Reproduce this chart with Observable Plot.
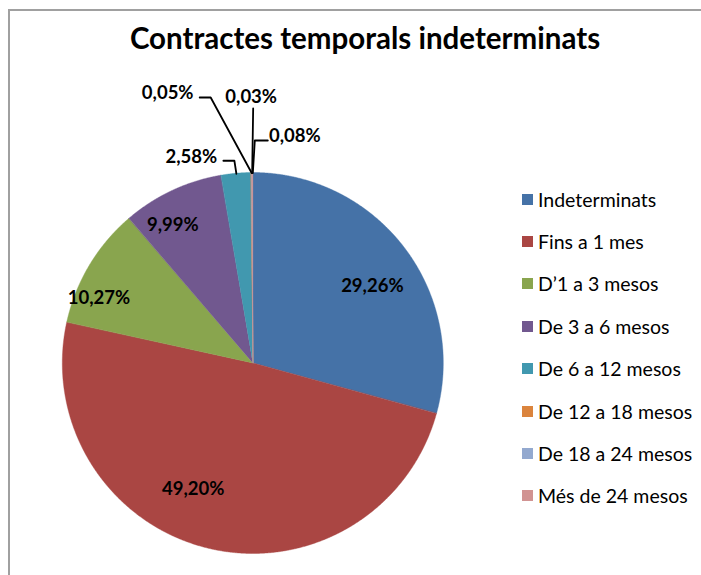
<!DOCTYPE html>
<html><head><meta charset="utf-8">
<script src="https://cdn.jsdelivr.net/npm/d3@7"></script>
<script src="https://cdn.jsdelivr.net/npm/@observablehq/plot@0.6"></script>
<style>
body{margin:0;background:#fff;}
#wrap{position:relative;width:701px;height:575px;overflow:hidden;font-family:Lato,"Open Sans",sans-serif;}
#frame{position:absolute;left:8px;top:9px;width:760px;height:640px;border-left:2px solid #a0a0a0;border-top:2px solid #a0a0a0;}
#title{position:absolute;left:115px;top:19.5px;width:500px;text-align:center;font-weight:700;font-size:29.5px;line-height:1.2;color:#000;white-space:nowrap;}
#plot{position:absolute;left:0;top:0;}
.row{position:absolute;left:522px;height:23px;display:flex;align-items:center;white-space:nowrap;font-size:19.5px;line-height:23px;color:#000;}
.sw{width:11px;height:11px;margin-right:5px;flex:none;}
</style></head>
<body><div id="wrap"><div id="frame"></div><div id="title">Contractes temporals indeterminats</div><div id="plot"></div><div id="legend"></div></div>
<script>
const categories = ["Indeterminats","Fins a 1 mes","D\u20191 a 3 mesos","De 3 a 6 mesos","De 6 a 12 mesos","De 12 a 18 mesos","De 18 a 24 mesos","Més de 24 mesos"];
// slice sizes (share of the circle, %)
const shares = [29.26, 49.20, 10.27, 8.60, 2.51, 0.05, 0.03, 0.08];
// printed data labels
const labelValues = [29.26, 49.20, 10.27, 9.99, 2.58, 0.05, 0.03, 0.08];
const colors = ["#4572A7","#AA4643","#89A54E","#71588F","#4198AF","#DB843D","#93A9CF","#D19392"];

const R = 190.5; // px per data unit (radius)
const fmt = v => v.toFixed(2).replace(".", ",") + "%";

const total = d3.sum(shares);
let cum = 0;
const slices = categories.map((c, i) => {
  const a0 = cum / total * 2 * Math.PI; cum += shares[i];
  const a1 = cum / total * 2 * Math.PI;
  return {c, i, a0, a1, mid: (a0 + a1) / 2};
});
const arcPts = slices.flatMap(s => {
  const n = Math.max(1, Math.ceil((s.a1 - s.a0) / (Math.PI / 720)));
  return d3.range(n + 1).map(k => {
    const a = s.a0 + (s.a1 - s.a0) * k / n;
    return {c: s.c, x: Math.sin(a), y: Math.cos(a)};
  });
});

// label layout (pixel nudges)
const inside = {0: [13, 3], 1: [-28, -4], 2: [-40, 3], 3: [-24, -18]};
const outside = {4: {off: [-45, -17], side: "left"}, 5: {off: [-84, -79.5], side: "left"}, 6: {off: [-1, -75.5], side: "top"}, 7: {off: [42, -37], side: "right"}};
const px = (d) => d / R;

const labels = [];
const leaders = [];
slices.forEach(s => {
  const text = fmt(labelValues[s.i]);
  if (inside[s.i]) {
    const [nx, ny] = inside[s.i];
    labels.push({text, x: 0.7 * Math.sin(s.mid) + px(nx), y: 0.7 * Math.cos(s.mid) - px(ny)});
  } else {
    const o = outside[s.i];
    const ex = Math.sin(s.mid), ey = Math.cos(s.mid);
    const lx = ex + px(o.off[0]), ly = ey - px(o.off[1]);
    labels.push({text, x: lx, y: ly});
    const hw = 26;
    let pts;
    if (o.side === "left") pts = [[lx + px(hw + 6), ly - px(4)], [lx + px(hw + 17), ly - px(4)], [ex, ey]];
    else if (o.side === "right") pts = [[lx - px(hw + 1), ly - px(4.5)], [lx - px(hw + 14), ly - px(4.5)], [ex, ey]];
    else pts = [[lx + px(2), ly - px(11)], [ex, ey]];
    pts.forEach(p => leaders.push({k: s.i, x: p[0], y: p[1]}));
  }
});

const chart = Plot.plot({
  width: 701, height: 575,
  marginLeft: 62.3, marginRight: 257.7, marginTop: 172.5, marginBottom: 21.5,
  x: {domain: [-1, 1], axis: null},
  y: {domain: [-1, 1], axis: null},
  color: {domain: categories, range: colors},
  style: {background: "transparent", overflow: "visible"},
  marks: [
    Plot.area(arcPts, {x1: "x", y1: "y", x2: d => 0, y2: d => 0, z: "c", fill: "c", stroke: "c", strokeWidth: 0.4}),
    Plot.line(leaders, {x: "x", y: "y", z: "k", stroke: "#000", strokeWidth: 1.8}),
    Plot.text(labels, {x: "x", y: "y", text: "text", fontFamily: "Lato", fontWeight: "bold", fontSize: 18.5, fill: "#000", lineAnchor: "middle"})
  ]
});
document.getElementById("plot").appendChild(chart);

const legend = document.getElementById("legend");
categories.forEach((c, i) => {
  const row = document.createElement("div");
  row.className = "row";
  row.style.top = (199 + 42.4 * i - 11.5) + "px";
  row.innerHTML = `<span class="sw" style="background:${colors[i]}"></span><span>${c}</span>`;
  legend.appendChild(row);
});
</script></body></html>
